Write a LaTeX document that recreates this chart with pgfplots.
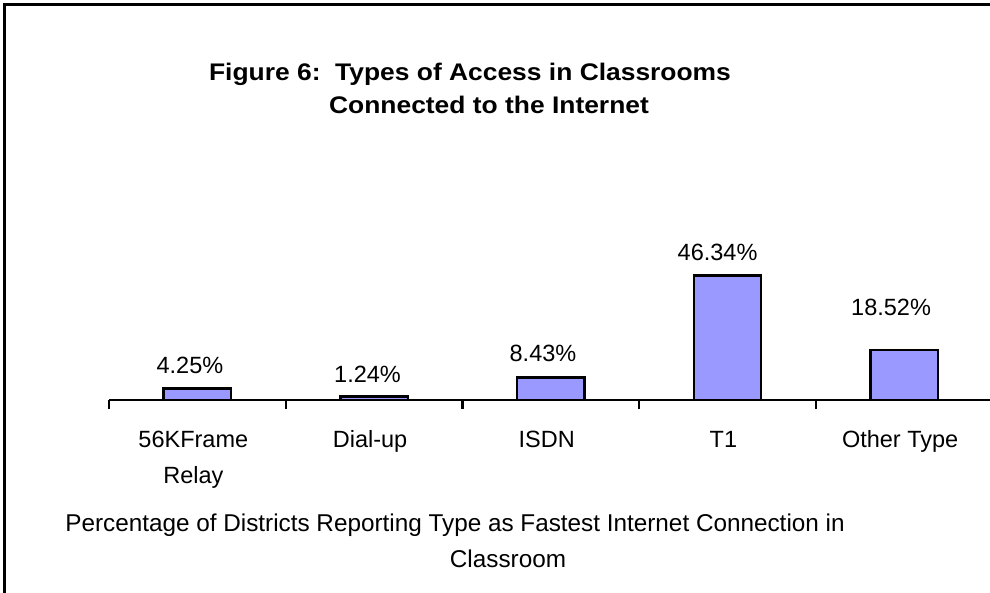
\documentclass[border=0pt]{standalone}
\usepackage{pgfplots}
\pgfplotsset{compat=1.18}
\usepackage{fontspec}
\setmainfont{Liberation Sans}
\definecolor{barfill}{HTML}{9999FF}
\newcommand{\bodyfont}{\fontsize{23.5}{36}\selectfont}
\begin{document}
\begin{tikzpicture}[x=1pt,y=1pt]
\useasboundingbox (0,0) rectangle (990,592);
\fill[white] (0,0) rectangle (990,592);
\clip (0,0) rectangle (990,592);
\draw[line width=3pt] (4.5,-2) -- (4.5,587.5) -- (995,587.5);
% title
\node[anchor=base, inner sep=0] at (470,511) {\fontsize{24}{30}\selectfont\bfseries\scalebox{1.1}[1]{Figure 6:\ \ Types of Access in Classrooms}};
\node[anchor=base, inner sep=0] at (489,478) {\fontsize{24}{30}\selectfont\bfseries\scalebox{1.1}[1]{Connected to the Internet}};
% x label
\node[anchor=base, inner sep=0] at (455,61) {\fontsize{24.3}{36}\selectfont Percentage of Districts Reporting Type as Fastest Internet Connection in};
\node[anchor=base, inner sep=0] at (508,25) {\fontsize{24.3}{36}\selectfont Classroom};
\begin{axis}[
  at={(109pt,192pt)}, anchor=south west,
  scale only axis, width=883.5pt, height=161.4pt,
  xmin=-0.5, xmax=4.5, ymin=0, ymax=60,
  axis x line*=bottom, axis y line=none,
  x axis line style={line width=2.2pt, black},
  xtick={0,1,2,3,4},
  xticklabels={{\begin{tabular}[t]{@{}c@{}}56KFrame\\Relay\end{tabular}},Dial-up,ISDN,T1,Other Type},
  minor xtick={-0.5,0.5,1.5,2.5,3.5,4.5},
  major tick length=0pt, minor tick length=9pt,
  tick align=outside,
  every tick/.style={line width=2.2pt, black},
  ytick=\empty,
  xticklabel style={font=\bodyfont, anchor=base, inner sep=0pt, yshift=-47pt, xshift=-4pt},
  clip=false,
]
\addplot[ybar, bar width=67.5pt, fill=barfill, draw=black, line width=2.4pt]
  coordinates {(0,4.25) (1,1.24) (2,8.43) (3,46.34) (4,18.52)};
\addplot[draw=none, mark=none, nodes near coords, point meta=explicit symbolic,
  nodes near coords style={anchor=base, inner sep=0pt, font=\bodyfont}]
  coordinates {(-0.042,9.67)[4.25\%] (0.963,6.69)[1.24\%] (1.956,14.13)[8.43\%] (2.944,52.04)[46.34\%] (3.926,31.23)[18.52\%]};
\end{axis}
\end{tikzpicture}
\end{document}
